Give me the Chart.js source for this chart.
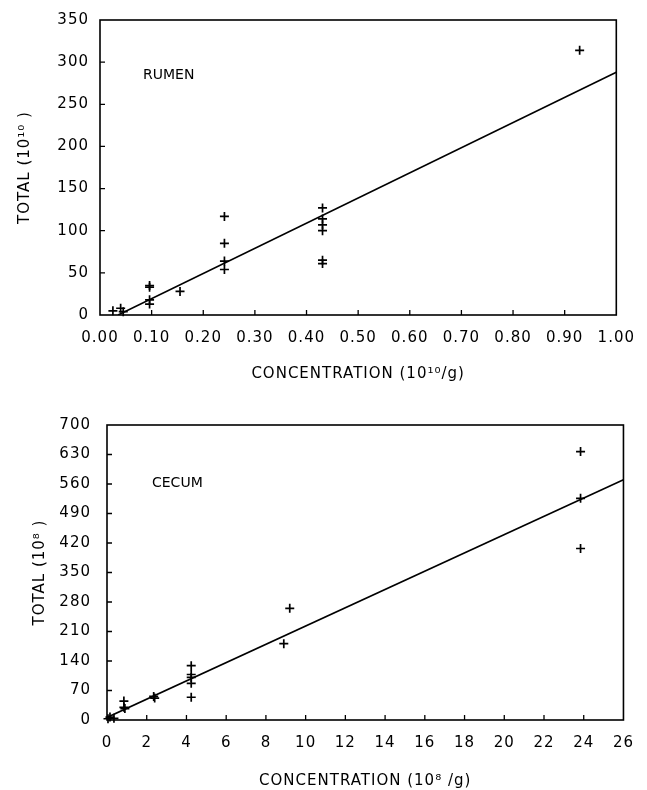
<!DOCTYPE html>
<html>
<head>
<meta charset="utf-8">
<script src="https://cdn.jsdelivr.net/npm/chart.js@4/dist/chart.umd.min.js"></script>
<style>
    body { margin: 0; background: #fff; }
    .box { position: absolute; left: 0; width: 647px; }
    #topBox { top: 0; height: 400px; }
    #bottomBox { top: 400px; height: 390px; }
</style>
</head>
<body>
<div class="box" id="topBox"><canvas id="rumenChart"></canvas></div>
<div class="box" id="bottomBox"><canvas id="cecumChart"></canvas></div>

<script>
// Rumen data (10^10/g vs 10^10)
const rumenConc  = [0.025, 0.040, 0.045, 0.096, 0.096, 0.096, 0.096, 0.155, 0.241, 0.241, 0.241, 0.241, 0.431, 0.431, 0.431, 0.431, 0.431, 0.431, 0.929];
const rumenTotal = [5, 8, 4, 35, 33, 18, 13, 28, 117, 85, 64, 54, 127, 114, 107, 100, 65, 61, 314];
const rumenFitX  = [0.035, 1.0];
const rumenFitY  = [0, 288];

// Cecum data (10^8/g vs 10^8)
const cecumConc  = [0.05, 0.15, 0.35, 0.85, 0.85, 0.9, 2.35, 2.4, 4.24, 4.24, 4.24, 4.24, 4.24, 8.9, 9.2, 23.84, 23.84, 23.84];
const cecumTotal = [3, 7, 4, 45, 30, 27, 56, 52, 129, 108, 101, 87, 54, 181, 265, 637, 526, 407];
const cecumFitX  = [0, 26];
const cecumFitY  = [6, 570];

const FONT = { family: "'DejaVu Sans', sans-serif", size: 15 };

function toPoints(xs, ys) {
    return xs.map((x, i) => ({ x: x, y: ys[i] }));
}

// frame, inward tick marks and the panel label
const framePlugin = {
    id: 'frame',
    beforeDraw(chart) {
        chart.ctx.letterSpacing = '1px';
    },
    afterDraw(chart, args, opts) {
        const ctx = chart.ctx;
        const a = chart.chartArea;
        ctx.save();
        ctx.strokeStyle = '#000';
        ctx.lineWidth = 1.6;
        ctx.strokeRect(a.left, a.top, a.right - a.left, a.bottom - a.top);

        const xs = chart.scales.x;
        const ys = chart.scales.y;
        ctx.lineWidth = 1.3;
        ctx.beginPath();
        xs.ticks.slice(1, -1).forEach(t => {
            const px = xs.getPixelForValue(t.value);
            ctx.moveTo(px, a.bottom);
            ctx.lineTo(px, a.bottom - 5);
        });
        ys.ticks.slice(1, -1).forEach(t => {
            const py = ys.getPixelForValue(t.value);
            ctx.moveTo(a.left, py);
            ctx.lineTo(a.left + 5, py);
        });
        ctx.stroke();

        ctx.fillStyle = '#000';
        ctx.font = "14px 'DejaVu Sans', sans-serif";
        ctx.letterSpacing = '0px';
        ctx.textBaseline = 'middle';
        ctx.fillText(opts.label, a.left + opts.dx, a.top + opts.dy);
        ctx.restore();
    }
};

function makeChart(id, cfg) {
    const ctx = document.getElementById(id).getContext('2d');
    return new Chart(ctx, {
        type: 'scatter',
        data: {
            datasets: [{
                data: toPoints(cfg.xs, cfg.ys),
                pointStyle: 'cross',
                pointRadius: 4.5,
                pointHoverRadius: 4.5,
                borderColor: '#000',
                borderWidth: 1.7,
                clip: false
            }, {
                type: 'line',
                data: toPoints(cfg.fitX, cfg.fitY),
                borderColor: '#000',
                borderWidth: 1.6,
                pointRadius: 0,
                fill: false
            }]
        },
        options: {
            responsive: true,
            maintainAspectRatio: false,
            animation: false,
            layout: { padding: cfg.padding },
            scales: {
                x: {
                    type: 'linear',
                    min: cfg.xMin, max: cfg.xMax,
                    afterFit: s => { s.height = cfg.xHeight; },
                    grid: { display: false, drawTicks: false },
                    border: { display: false },
                    ticks: {
                        stepSize: cfg.xStep,
                        padding: 14,
                        color: '#000',
                        font: FONT,
                        maxRotation: 0,
                        autoSkip: false,
                        callback: cfg.xFormat
                    },
                    title: {
                        display: true,
                        text: cfg.xTitle,
                        color: '#000',
                        font: FONT,
                        padding: { top: 0, bottom: cfg.xTitlePad }
                    }
                },
                y: {
                    min: 0, max: cfg.yMax,
                    afterFit: s => { s.width = cfg.yWidth; },
                    grid: { display: false, drawTicks: false },
                    border: { display: false },
                    ticks: {
                        stepSize: cfg.yStep,
                        padding: cfg.yTickPad,
                        color: '#000',
                        font: FONT
                    },
                    title: {
                        display: true,
                        text: cfg.yTitle,
                        color: '#000',
                        font: FONT,
                        padding: { top: cfg.yTitlePad, bottom: 0 }
                    }
                }
            },
            plugins: {
                legend: { display: false },
                tooltip: { enabled: false },
                frame: cfg.label
            }
        },
        plugins: [framePlugin]
    });
}

makeChart('rumenChart', {
    xs: rumenConc, ys: rumenTotal, fitX: rumenFitX, fitY: rumenFitY,
    padding: { top: 15, right: 25, left: 0, bottom: 0 },
    xMin: 0, xMax: 1, xStep: 0.1, xHeight: 85,
    xFormat: v => v.toFixed(2),
    xTitle: 'CONCENTRATION (10\u00b9\u2070/g)', xTitlePad: 17,
    yMax: 350, yStep: 50, yWidth: 100, yTickPad: 11,
    yTitle: 'TOTAL (10\u00b9\u2070 )', yTitlePad: 16,
    label: { label: 'RUMEN', dx: 43, dy: 55 }
});

makeChart('cecumChart', {
    xs: cecumConc, ys: cecumTotal, fitX: cecumFitX, fitY: cecumFitY,
    padding: { top: 22, right: 14, left: 0, bottom: 0 },
    xMin: 0, xMax: 26, xStep: 2, xHeight: 70,
    xFormat: v => String(v),
    xTitle: 'CONCENTRATION (10\u2078 /g)', xTitlePad: 0,
    yMax: 700, yStep: 70, yWidth: 107, yTickPad: 16,
    yTitle: 'TOTAL (10\u2078 )', yTitlePad: 31,
    label: { label: 'CECUM', dx: 45, dy: 58 }
});
</script>
</body>
</html>
